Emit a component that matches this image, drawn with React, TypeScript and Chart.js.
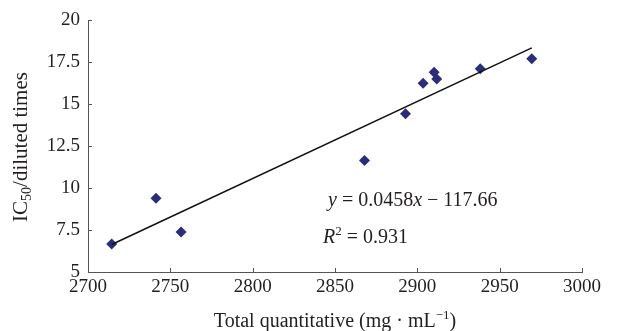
import React, { useEffect, useRef } from "react";
import { Chart, registerables } from "chart.js";

Chart.register(...registerables);

// Data
const totalQuantitative = [2714.4, 2741.3, 2756.5, 2867.9, 2892.8, 2903.5, 2910.2, 2911.8, 2938.2, 2969.5];
const ic50Diluted = [6.67, 9.39, 7.38, 11.63, 14.42, 16.23, 16.89, 16.49, 17.1, 17.7];
const trendX = [2714.4, 2969.5];
const trendY = [6.64, 18.34];
const xTicks = [2700, 2750, 2800, 2850, 2900, 2950, 3000];
const yTicks = [5, 7.5, 10, 12.5, 15, 17.5, 20];

const FONT = "'Liberation Serif', 'Times New Roman', serif";
const AXIS_COLOR = "#555";
const TEXT_COLOR = "#231f20";

const decorPlugin = {
  id: "decor",
  afterDraw(chart: any) {
    const ctx = chart.ctx as CanvasRenderingContext2D;
    const xs = chart.scales.x;
    const ys = chart.scales.y;
    const area = chart.chartArea;
    ctx.save();
    // inward tick marks
    ctx.strokeStyle = AXIS_COLOR;
    ctx.lineWidth = 1;
    ctx.beginPath();
    xTicks.forEach((v) => {
      const px = Math.round(xs.getPixelForValue(v)) + 0.5;
      ctx.moveTo(px, area.bottom);
      ctx.lineTo(px, area.bottom - 4);
    });
    yTicks.forEach((v) => {
      const py = Math.round(ys.getPixelForValue(v)) + 0.5;
      ctx.moveTo(area.left, py);
      ctx.lineTo(area.left + 4, py);
    });
    ctx.stroke();

    ctx.fillStyle = TEXT_COLOR;
    ctx.textBaseline = "alphabetic";
    ctx.textAlign = "left";

    const drawParts = (parts: [string, string, number][], x0: number, y0: number) => {
      let cx = x0;
      parts.forEach(([t, f, dy]) => {
        ctx.font = f;
        ctx.fillText(t, cx, y0 + dy);
        cx += ctx.measureText(t).width;
      });
    };
    const measureParts = (parts: [string, string, number][]) => {
      let total = 0;
      parts.forEach(([t, f]) => {
        ctx.font = f;
        total += ctx.measureText(t).width;
      });
      return total;
    };

    // Y title with subscript
    const ybig = `21px ${FONT}`;
    const ysmall = `14px ${FONT}`;
    const yparts: [string, string, number][] = [
      ["IC", ybig, 0],
      ["50", ysmall, 4],
      ["/diluted times", ybig, 0],
    ];
    const ytotal = measureParts(yparts);
    ctx.save();
    ctx.translate(27, 147);
    ctx.rotate(-Math.PI / 2);
    drawParts(yparts, -ytotal / 2, 0);
    ctx.restore();

    // X title with superscript
    const big = `20px ${FONT}`;
    const small = `13px ${FONT}`;
    const xparts: [string, string, number][] = [
      ["Total quantitative (mg · mL", big, 0],
      ["\u22121", small, -8],
      [")", big, 0],
    ];
    const xtotal = measureParts(xparts);
    drawParts(xparts, 335 - xtotal / 2, 327);

    // Equation
    const eq = `20px ${FONT}`;
    const eqi = `italic 20px ${FONT}`;
    drawParts(
      [
        ["y", eqi, 0],
        [" = 0.0458", eq, 0],
        ["x", eqi, 0],
        [" \u2212 117.66", eq, 0],
      ],
      328,
      206
    );
    drawParts(
      [
        ["R", eqi, 0],
        ["2", `13px ${FONT}`, -8],
        [" = 0.931", eq, 0],
      ],
      323,
      243
    );
    ctx.restore();
  },
};

export default function App() {
  const ref = useRef<HTMLCanvasElement>(null);
  useEffect(() => {
    if (!ref.current) return;
    const chart = new Chart(ref.current, {
      type: "scatter",
      data: {
        datasets: [
          {
            type: "line",
            data: trendX.map((x, i) => ({ x, y: trendY[i] })),
            borderColor: "#111",
            borderWidth: 1.5,
            pointRadius: 0,
            fill: false,
          } as any,
          {
            data: totalQuantitative.map((x, i) => ({ x, y: ic50Diluted[i] })),
            pointStyle: "rectRot",
            pointRadius: 5.5,
            backgroundColor: "#2b2d78",
            borderColor: "#2b2d78",
            borderWidth: 0,
          },
        ],
      },
      options: {
        responsive: false,
        animation: false,
        devicePixelRatio: 1,
        layout: { padding: { top: 20, right: 59, bottom: 0, left: 0 } },
        plugins: { legend: { display: false }, tooltip: { enabled: false } },
        scales: {
          x: {
            type: "linear",
            min: 2700,
            max: 3000,
            afterBuildTicks: (s: any) => {
              s.ticks = xTicks.map((v) => ({ value: v }));
            },
            afterFit: (s: any) => {
              s.height = 59;
            },
            ticks: {
              font: { family: FONT, size: 19 },
              color: TEXT_COLOR,
              padding: 4,
              maxRotation: 0,
              callback: (v: any) => String(v),
            },
            grid: { display: false, drawTicks: false },
            border: { display: true, color: AXIS_COLOR, width: 1 },
          },
          y: {
            type: "linear",
            min: 5,
            max: 20,
            afterBuildTicks: (s: any) => {
              s.ticks = yTicks.map((v) => ({ value: v }));
            },
            afterFit: (s: any) => {
              s.width = 88;
            },
            ticks: {
              font: { family: FONT, size: 19 },
              color: TEXT_COLOR,
              padding: 8,
              callback: (v: any) => String(v),
            },
            grid: { display: false, drawTicks: false },
            border: { display: true, color: AXIS_COLOR, width: 1 },
          },
        },
      },
      plugins: [decorPlugin],
    });
    return () => chart.destroy();
  }, []);
  return (
    <div style={{ position: "fixed", left: 0, top: 0, width: 641, height: 331, background: "#fff" }}>
      <canvas ref={ref} width={641} height={331} />
    </div>
  );
}
